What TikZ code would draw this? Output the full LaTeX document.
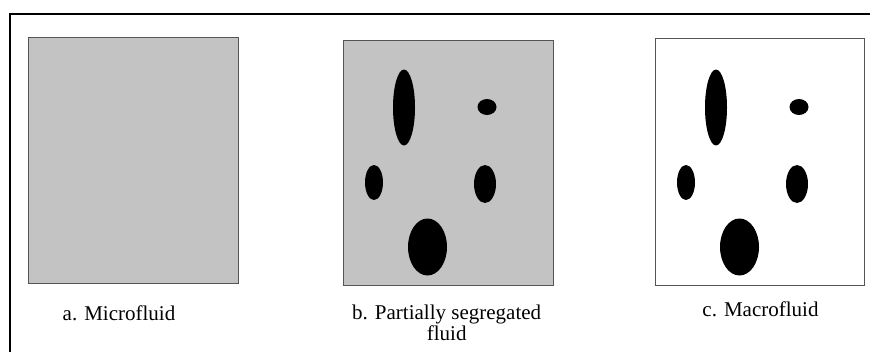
\documentclass[tikz,border=0pt]{standalone}
\usepackage{fontspec}
\setmainfont{Liberation Serif}
\usetikzlibrary{shapes.geometric}
\definecolor{fluidgray}{RGB}{195,195,195}
\definecolor{boxedge}{RGB}{85,85,85}
\tikzset{
  panel/.style={draw=boxedge, line width=1pt, rectangle, inner sep=0pt,
    minimum width=210pt, minimum height=246pt},
  blob/.style={ellipse, fill=black, draw=none, inner sep=0pt},
  caption/.style={anchor=base, font=\fontsize{21pt}{21.5pt}\selectfont,
    align=center, inner sep=0pt},
  frameline/.style={line width=2pt, black}
}
\begin{document}
\begin{tikzpicture}[x=1pt, y=-1pt]
  \useasboundingbox (0,0) rectangle (870,351);
  % outer frame: top and left edges only
  \coordinate (ftop) at (870,14);
  \coordinate (fcorner) at (10,14);
  \coordinate (fbottom) at (10,352);
  \draw[frameline] (ftop) -- (fcorner) -- (fbottom);

  % a. microfluid
  \node[panel, fill=fluidgray] (pa) at (133,160) {};
  % b. partially segregated fluid
  \node[panel, fill=fluidgray, minimum height=245.5pt] (pb) at (448.5,162.75) {};
  % c. macrofluid
  \node[panel, fill=white, minimum width=209pt, minimum height=246.5pt] (pc) at (760,162) {};

  % blobs in panel b
  \node[blob, minimum width=22pt, minimum height=76pt] (b1) at (404,107.5) {};
  \node[blob, minimum width=19pt, minimum height=16pt] (b2) at (487,107) {};
  \node[blob, minimum width=18pt, minimum height=35pt] (b3) at (374,182.5) {};
  \node[blob, minimum width=22pt, minimum height=38pt] (b4) at (485,184) {};
  \node[blob, minimum width=39pt, minimum height=57pt] (b5) at (427.5,247) {};

  % blobs in panel c
  \node[blob, minimum width=22pt, minimum height=76pt] (c1) at (716,107.5) {};
  \node[blob, minimum width=19pt, minimum height=16pt] (c2) at (799,107) {};
  \node[blob, minimum width=18pt, minimum height=35pt] (c3) at (686,182.5) {};
  \node[blob, minimum width=22pt, minimum height=38pt] (c4) at (797,184) {};
  \node[blob, minimum width=39pt, minimum height=57pt] (c5) at (739.5,247) {};

  % captions
  \node[caption] (la) at (119,320) {a. Microfluid};
  \node[caption] (lb) at (446.7,319.3) {b. Partially segregated};
  \node[caption] (lb2) at (446.7,340.7) {fluid};
  \node[caption] (lc) at (760.5,316.7) {c. Macrofluid};
\end{tikzpicture}
\end{document}
